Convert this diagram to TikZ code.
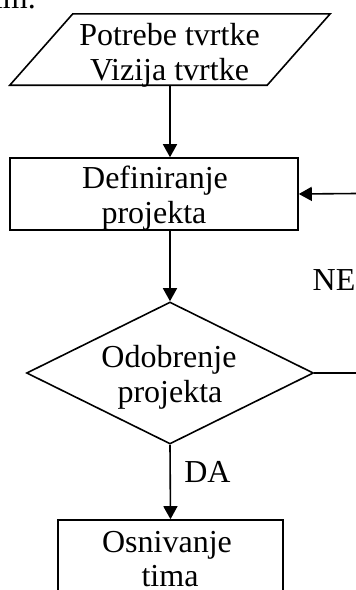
\documentclass[tikz,border=0pt]{standalone}
\usepackage{fontspec}
\setmainfont{Liberation Serif}
\usetikzlibrary{shapes.geometric,arrows.meta}
\begin{document}
\begin{tikzpicture}[x=1pt,y=-1pt,
  every node/.style={font=\fontsize{32}{35}\selectfont},
  shapeline/.style={draw=black,line width=1.6pt,inner sep=0pt},
  txt/.style={anchor=base,inner sep=0pt},
  conn/.style={line width=1.6pt},
  arr/.style={conn,-{Triangle[length=13pt,width=14pt]}}]
\useasboundingbox (0,0) rectangle (356,590);
\clip (0,0) rectangle (356,590);
% partial text at top
\node[txt,anchor=base east] (top) at (36,8) {im.};
% shapes
\node[inner sep=0pt,minimum width=257pt,minimum height=71pt] (in) at (170,49.5) {};
\draw[line width=1.6pt,line join=miter]
  ([xshift=-31.5pt]in.south west) -- ([xshift=-31.5pt]in.south east)
  -- ([xshift=31.5pt]in.north east) -- ([xshift=31.5pt]in.north west) -- cycle;
\node[shapeline,rectangle,minimum width=288pt,minimum height=72pt] (def) at (154,194) {};
\node[shapeline,diamond,aspect=2.02,minimum width=287pt,minimum height=142pt] (dec) at (170,373) {};
\node[shapeline,rectangle,minimum width=225pt,minimum height=83pt] (osn) at (170.5,561.5) {};
% texts
\node[txt] (in1) at (169.5,45) {Potrebe tvrtke};
\node[txt] (in2) at (169.5,80) {Vizija tvrtke};
\node[txt] (def1) at (155,188) {Definiranje};
\node[txt] (def2) at (154,223) {projekta};
\node[txt] (dec1) at (169,367) {Odobrenje};
\node[txt] (dec2) at (170,402) {projekta};
\node[txt] (osn1) at (167,552) {Osnivanje};
\node[txt] (osn2) at (170,586) {tima};
\node[txt] (ne) at (334,290) {NE};
\node[txt] (da) at (207.5,482) {DA};
% free ends at the right edge
\coordinate (ret) at (356,193.5);
\coordinate (noexit) at (356,373);
% connectors
\draw[arr] (in.south) -- (in.south |- def.north);
\draw[arr] (ret) -- (def.east);
\draw[arr] (dec.north |- def.south) -- (dec.north);
\draw[conn] (dec.east) -- (noexit);
\draw[arr] (dec.south) -- (osn.north);
\end{tikzpicture}
\end{document}
